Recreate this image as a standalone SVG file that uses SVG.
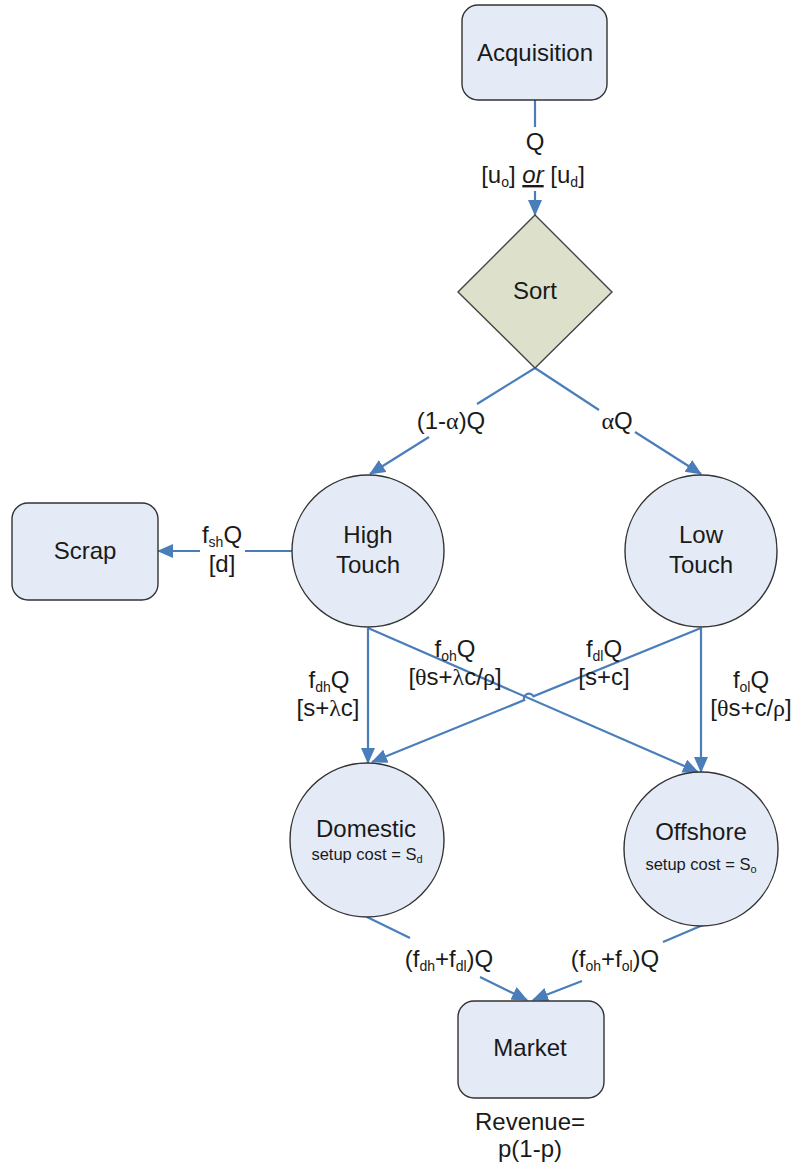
<svg xmlns="http://www.w3.org/2000/svg" width="798" height="1171" viewBox="0 0 798 1171">
<style>
text{font-family:"Liberation Sans",Arial,sans-serif;font-size:24px;fill:#1a1a1a;text-anchor:middle}
.small{font-size:16.5px}
.sub{font-size:14px}
.tiny{font-size:11px}
.g{font-family:"Liberation Serif","Times New Roman",serif}
.node{fill:#e4ebf6;stroke:#333;stroke-width:1.4}
.dia{fill:#dde1cb;stroke:#444;stroke-width:1.4}
.conn{fill:none;stroke:#4a7ebb;stroke-width:2.2;marker-end:url(#arr)}
</style>
<defs>
<marker id="arr" markerUnits="userSpaceOnUse" markerWidth="17" markerHeight="15" refX="15" refY="7" orient="auto">
<path d="M0,0 L16,7 L0,14 z" fill="#4a7ebb"/>
</marker>
</defs>
<g id="connectors">
<path class="conn" d="M535,100 L535,127 M535,191 L535,215"/>
<path class="conn" d="M535,368 L477,404 M429,437 L370,474"/>
<path class="conn" d="M535,368 L599,410 M635,432 L701,474"/>
<path class="conn" d="M292,551 L245,551 M200,551 L158,551"/>
<path class="conn" d="M368,628 L368,763"/>
<path class="conn" d="M368,628 L698,772"/>
<path class="conn" d="M701,628 L533.4,696.3 A5,5 0 0 0 524.2,700.1 L372,762"/>
<path class="conn" d="M701,628 L701,772"/>
<path class="conn" d="M367,917 L410,938 M480,977 L527,1000"/>
<path class="conn" d="M703,925 L663,942 M582,981 L533,1000"/>
</g>
<g id="labels">
<text x="535" y="150">Q</text>
<text x="533" y="183">[u<tspan class="sub" dy="4">o</tspan><tspan dy="-4">] </tspan><tspan font-style="italic" text-decoration="underline">or</tspan> [u<tspan class="sub" dy="4">d</tspan><tspan dy="-4">]</tspan></text>
<text x="451" y="429">(1-<tspan class="g">α</tspan>)Q</text>
<text x="617" y="429"><tspan class="g">α</tspan>Q</text>
<text x="222" y="543">f<tspan class="sub" dy="4">sh</tspan><tspan dy="-4">Q</tspan></text>
<text x="222" y="572">[d]</text>
<text x="329" y="688">f<tspan class="sub" dy="4">dh</tspan><tspan dy="-4">Q</tspan></text>
<text x="328" y="716">[s+<tspan class="g">λ</tspan>c]</text>
<text x="455" y="657">f<tspan class="sub" dy="4">oh</tspan><tspan dy="-4">Q</tspan></text>
<text x="455" y="685">[<tspan class="g">θ</tspan>s+<tspan class="g">λ</tspan>c/<tspan class="g">ρ</tspan>]</text>
<text x="604" y="657">f<tspan class="sub" dy="4">dl</tspan><tspan dy="-4">Q</tspan></text>
<text x="604" y="685">[s+c]</text>
<text x="751" y="688">f<tspan class="sub" dy="4">ol</tspan><tspan dy="-4">Q</tspan></text>
<text x="751" y="716">[<tspan class="g">θ</tspan>s+c/<tspan class="g">ρ</tspan>]</text>
<text x="449" y="967">(f<tspan class="sub" dy="4">dh</tspan><tspan dy="-4">+f</tspan><tspan class="sub" dy="4">dl</tspan><tspan dy="-4">)Q</tspan></text>
<text x="615" y="967">(f<tspan class="sub" dy="4">oh</tspan><tspan dy="-4">+f</tspan><tspan class="sub" dy="4">ol</tspan><tspan dy="-4">)Q</tspan></text>
</g>
<g id="acquisition">
<rect class="node" x="462" y="5" width="145" height="95" rx="16"/>
<text x="535" y="61">Acquisition</text>
</g>
<g id="sort">
<polygon class="dia" points="535,215 612,292 535,368 458,292"/>
<text x="535" y="299">Sort</text>
</g>
<g id="scrap">
<rect class="node" x="12" y="503" width="146" height="97" rx="16"/>
<text x="85" y="559">Scrap</text>
</g>
<g id="high-touch">
<circle class="node" cx="368" cy="551" r="76"/>
<text x="368" y="543">High</text>
<text x="368" y="573">Touch</text>
</g>
<g id="low-touch">
<circle class="node" cx="701" cy="551" r="76"/>
<text x="701" y="543">Low</text>
<text x="701" y="573">Touch</text>
</g>
<g id="domestic">
<circle class="node" cx="367" cy="840" r="77"/>
<text x="366" y="837">Domestic</text>
<text class="small" x="367" y="860">setup cost = S<tspan class="tiny" dy="3">d</tspan></text>
</g>
<g id="offshore">
<circle class="node" cx="701" cy="849" r="77"/>
<text x="701" y="840">Offshore</text>
<text class="small" x="701" y="870">setup cost = S<tspan class="tiny" dy="3">o</tspan></text>
</g>
<g id="market">
<rect class="node" x="458" y="1001" width="146" height="97" rx="16"/>
<text x="530" y="1056">Market</text>
<text x="530" y="1130">Revenue=</text>
<text x="530" y="1157">p(1-p)</text>
</g>
</svg>
